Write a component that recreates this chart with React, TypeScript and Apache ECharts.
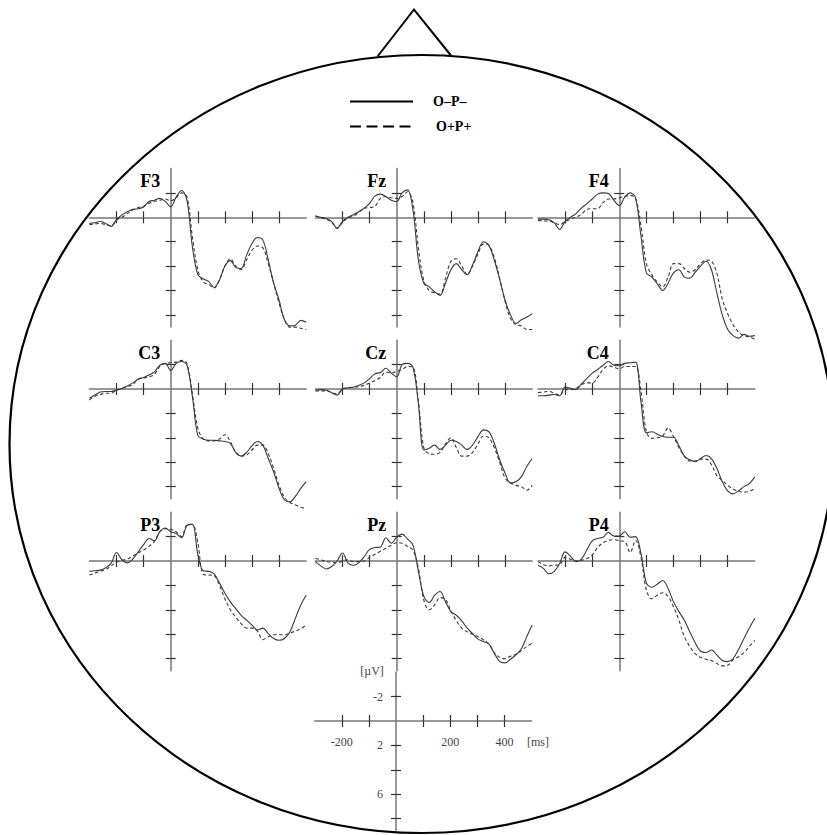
import React, { useEffect, useRef } from "react";
import * as echarts from "echarts";

// ---------------- data ----------------
const times = [
  -300, -280, -260, -240, -220, -200, -180, -160, -140, -120, -100, -80, -60, -40, -20,
  0, 20, 40, 60, 80, 100, 120, 140, 160, 180, 200, 220, 240, 260, 280, 300, 320, 340,
  360, 380, 400, 420, 440, 460, 480, 500,
];

const channels = ["F3", "Fz", "F4", "C3", "Cz", "C4", "P3", "Pz", "P4"];
const conditionNames = ["O\u2013P\u2013", "O+P+"];

const F3_solid = [0.5, 0.45, 0.35, 0.5, 0.75, 0.2, -0.2, -0.45, -0.65, -0.7, -0.85, -1.3, -1.4, -1.55, -1.3, -0.85, -1.65, -2.2, -1.4, 2.4, 4.7, 5.05, 5.25, 5.75, 5.15, 4.0, 3.55, 4.1, 4.2, 3.1, 2.15, 1.65, 1.85, 3.5, 5.4, 6.8, 8.4, 8.9, 8.85, 8.45, 8.6];
const F3_dashed = [0.6, 0.55, 0.5, 0.6, 0.7, 0.2, 0.0, -0.3, -0.6, -0.8, -0.9, -1.15, -1.3, -1.4, -1.5, -1.35, -1.6, -2.0, -1.7, 1.6, 4.3, 5.3, 5.5, 5.8, 5.1, 4.0, 3.4, 4.0, 4.3, 3.5, 2.7, 2.35, 2.5, 3.8, 5.4, 7.05, 8.4, 9.0, 9.0, 9.1, 9.2];
const Fz_solid = [-0.1, 0, 0.1, 0.35, 0.9, 0.35, 0, -0.2, -0.45, -0.75, -1.15, -1.75, -1.9, -1.7, -1.4, -1.3, -2.0, -2.25, -0.6, 3.5, 5.4, 5.7, 6.1, 6.4, 5.4, 4.3, 3.8, 4.3, 4.7, 3.9, 2.8, 2.0, 2.3, 3.5, 5.1, 6.8, 8.0, 8.7, 8.4, 8.2, 7.9];
const Fz_dashed = [-0.1, 0.05, 0.15, 0.4, 0.9, 0.4, 0.05, -0.1, -0.4, -0.75, -0.8, -0.9, -1.55, -1.7, -1.6, -1.55, -1.7, -2.1, -1.2, 2.5, 5.2, 6.0, 6.2, 6.3, 5.0, 3.6, 3.4, 4.0, 4.7, 4.0, 3.0, 2.2, 2.3, 3.3, 5.0, 6.9, 8.3, 8.8, 8.9, 9.2, 9.2];
const F4_solid = [0.15, 0.15, 0.2, 0.45, 1.0, 0.35, 0, -0.3, -0.75, -1.1, -1.5, -1.9, -2.0, -1.95, -1.4, -0.95, -1.65, -2.0, -1.6, 1.55, 4.55, 4.9, 5.45, 6.0, 5.4, 4.55, 4.3, 4.9, 5.0, 4.5, 4.0, 3.6, 4.3, 6.2, 8.0, 9.2, 9.7, 9.9, 9.6, 9.75, 9.7];
const F4_dashed = [0.25, 0.3, 0.3, 0.45, 0.6, 0.35, 0.15, 0.0, -0.25, -0.65, -0.7, -0.7, -1.2, -1.5, -1.5, -1.6, -1.7, -1.8, -1.55, 0.7, 3.8, 4.7, 5.3, 5.7, 4.9, 3.8, 3.8, 4.2, 4.5, 4.3, 3.8, 3.5, 3.6, 4.6, 6.7, 7.9, 8.8, 9.4, 9.7, 9.8, 10.0];
const C3_solid = [0.75, 0.5, 0.25, 0.2, 0.2, 0.1, -0.05, -0.25, -0.5, -0.8, -0.95, -1.15, -1.4, -1.95, -2.1, -1.5, -2.1, -2.25, -1.95, 0.6, 3.8, 4.1, 4.2, 4.2, 4.25, 4.3, 4.45, 5.2, 5.5, 5.2, 4.65, 4.3, 4.6, 5.7, 6.8, 8.15, 9.1, 9.25, 8.8, 8.15, 7.6];
const C3_dashed = [0.9, 0.6, 0.45, 0.35, 0.35, 0.1, -0.05, -0.2, -0.35, -0.8, -0.9, -1.0, -1.2, -1.85, -2.1, -2.15, -2.2, -2.35, -2.1, 0.4, 3.2, 4.1, 4.25, 4.25, 4.1, 3.75, 4.3, 5.2, 5.5, 5.4, 5.0, 4.6, 4.6, 5.3, 6.5, 7.9, 8.9, 9.3, 9.5, 9.7, 9.8];
const Cz_solid = [0.1, 0.05, 0.1, 0.3, 0.5, 0, -0.1, -0.15, -0.3, -0.5, -0.85, -1.25, -1.35, -1.7, -1.3, -1.0, -2.0, -2.1, -1.8, 1.2, 5.0, 4.85, 4.6, 4.95, 4.6, 4.2, 4.3, 4.6, 4.95, 4.6, 3.9, 3.35, 3.5, 4.45, 5.8, 6.9, 7.7, 7.6, 7.2, 6.35, 5.7];
const Cz_dashed = [0.15, 0.15, 0.15, 0.3, 0.4, 0.0, -0.1, -0.15, -0.2, -0.3, -0.5, -0.7, -0.95, -1.4, -1.3, -1.45, -1.6, -1.85, -1.8, 1.0, 4.8, 5.3, 5.35, 5.2, 4.5, 4.0, 4.8, 5.5, 5.5, 5.2, 4.5, 3.85, 4.0, 4.8, 6.0, 7.3, 7.7, 7.9, 8.0, 8.3, 7.9];
const C4_solid = [0.55, 0.55, 0.5, 0.45, 0.55, -0.15, -0.05, 0.05, -0.4, -0.85, -1.3, -1.6, -1.95, -2.25, -1.95, -1.9, -2.1, -2.15, -2.2, 1.05, 3.6, 3.5, 3.7, 3.9, 3.95, 3.95, 4.65, 5.5, 5.8, 5.95, 5.7, 5.45, 5.7, 6.5, 7.6, 8.35, 8.6, 8.35, 8.0, 7.75, 7.2];
const C4_dashed = [0.3, 0.25, 0.2, 0.35, 0.5, 0.05, 0.05, -0.05, -0.35, -0.5, -0.5, -0.95, -1.6, -1.9, -1.8, -1.65, -1.85, -1.85, -1.85, 0.2, 3.5, 4.05, 4.0, 3.85, 3.2, 3.9, 4.8, 5.5, 5.9, 5.9, 5.75, 5.75, 6.2, 7.1, 7.5, 7.9, 8.2, 8.4, 8.45, 8.4, 8.15];
const P3_solid = [0.85, 0.8, 0.75, 0.55, 0.2, -0.7, -0.1, 0.15, -0.15, -0.75, -1.35, -1.85, -1.65, -2.4, -2.7, -2.4, -2.25, -1.9, -2.9, -3.0, -0.55, 0.8, 0.85, 1.05, 1.8, 2.65, 3.35, 3.9, 4.45, 4.85, 5.25, 5.65, 5.5, 5.95, 6.35, 6.5, 6.35, 5.8, 4.7, 3.6, 2.8];
const P3_dashed = [1.15, 1.0, 0.85, 0.7, 0.4, 0.1, -0.05, -0.15, -0.4, -0.65, -0.9, -1.2, -1.6, -2.4, -2.65, -2.6, -2.4, -2.0, -2.95, -3.0, -1.5, 1.1, 1.15, 1.2, 2.0, 3.1, 4.0, 4.6, 5.15, 5.5, 5.5, 5.75, 6.45, 6.2, 6.05, 6.05, 6.05, 5.9, 5.75, 5.55, 5.25];
const Pz_solid = [0.05, 0.4, 0.65, 0.45, 0.0, -0.65, 0.15, 0.35, 0.15, -0.35, -0.95, -1.1, -1.15, -1.9, -1.45, -1.95, -2.2, -1.8, -1.3, 0.85, 2.9, 3.4, 2.8, 2.5, 3.35, 4.15, 4.45, 4.9, 5.5, 5.95, 6.4, 6.6, 6.8, 7.55, 8.25, 8.35, 8.05, 7.7, 7.2, 6.2, 5.25];
const Pz_dashed = [-0.2, -0.1, 0.05, 0.1, 0.15, 0.0, -0.1, 0.05, 0.05, 0.0, -0.3, -0.55, -0.8, -1.05, -1.3, -1.5, -1.45, -1.2, -0.9, 0.6, 3.2, 4.0, 3.6, 3.0, 3.15, 4.1, 4.9, 5.5, 5.8, 6.0, 6.2, 6.45, 6.8, 7.5, 7.9, 8.0, 7.8, 7.65, 7.35, 7.0, 6.75];
const P4_solid = [0.35, 0.6, 1.05, 0.85, 0.2, -0.75, -0.4, 0.05, -0.15, -0.9, -1.65, -1.85, -1.95, -2.35, -2.05, -2.05, -2.4, -1.95, -2.0, -0.6, 1.8, 2.15, 1.9, 1.6, 2.25, 3.35, 4.15, 4.85, 5.8, 6.7, 7.4, 7.5, 7.3, 7.7, 8.15, 8.25, 8.0, 7.25, 6.35, 5.5, 4.7];
const P4_dashed = [0.05, 0.3, 0.4, 0.35, 0.3, -0.3, -0.15, 0.0, -0.05, -0.2, -0.5, -1.1, -1.5, -1.7, -1.75, -1.65, -1.6, -0.7, -1.7, -0.3, 2.4, 3.1, 2.8, 2.6, 2.9, 3.75, 4.85, 6.2, 7.0, 7.6, 7.9, 8.05, 8.15, 8.4, 8.6, 8.55, 8.1, 7.85, 7.5, 7.0, 6.5];

const solidData = [F3_solid, Fz_solid, F4_solid, C3_solid, Cz_solid, C4_solid, P3_solid, Pz_solid, P4_solid];
const dashedData = [F3_dashed, Fz_dashed, F4_dashed, C3_dashed, Cz_dashed, C4_dashed, P3_dashed, Pz_dashed, P4_dashed];

const xTicks = [-200, -100, 100, 200, 300, 400];
const yTicks = [-2, 2, 4, 6, 8];
const scaleXLabels = [-200, 200, 400];
const scaleYLabels = [-2, 2, 6];

// ---------------- layout ----------------
const X_MIN = -300;
const X_MAX = 500;
const Y_MIN = -4;
const Y_MAX = 9;
const PX_PER_MS = 0.271;
const PX_PER_UV = 12.2;
const colOrigins = [170.7, 396.7, 619.3];
const rowOrigins = [217.3, 389, 561];
const scaleOrigin = [396, 721];

const SERIF = '"Liberation Serif", "Times New Roman", serif';
const AXIS_COLOR = "#777";
const TICK_COLOR = "#333";
const CURVE_COLOR = "#3a3a3a";
const LABEL_COLOR = "#444";

function buildOption() {
  const origins: number[][] = [];
  for (let k = 0; k < channels.length; k++) {
    origins.push([colOrigins[k % 3], rowOrigins[Math.floor(k / 3)]]);
  }
  origins.push(scaleOrigin);
  const scaleGrid = origins.length - 1;

  const grids: any[] = [];
  const xAxes: any[] = [];
  const yAxes: any[] = [];

  origins.forEach(([ox, oy], g) => {
    grids.push({
      left: ox - (0 - X_MIN) * PX_PER_MS,
      top: oy - (0 - Y_MIN) * PX_PER_UV,
      width: (X_MAX - X_MIN) * PX_PER_MS,
      height: (Y_MAX - Y_MIN) * PX_PER_UV,
      outerBoundsMode: "none",
      containLabel: false,
    });
    xAxes.push({
      type: "value",
      gridIndex: g,
      position: "bottom",
      min: X_MIN,
      max: X_MAX,
      axisLine: { show: true, onZero: true, lineStyle: { color: AXIS_COLOR, width: 1.5 } },
      axisTick: { show: true, length: 6, customValues: xTicks, lineStyle: { color: TICK_COLOR, width: 1.2 } },
      axisLabel: { show: false },
      splitLine: { show: false },
    });
    xAxes.push({
      type: "value",
      gridIndex: g,
      position: "top",
      min: X_MIN,
      max: X_MAX,
      axisLine: { show: false, onZero: true },
      axisTick: { show: true, length: 6, customValues: xTicks, lineStyle: { color: TICK_COLOR, width: 1.2 } },
      axisLabel: { show: false },
      splitLine: { show: false },
    });
    yAxes.push({
      type: "value",
      gridIndex: g,
      position: "left",
      inverse: true,
      min: Y_MIN,
      max: Y_MAX,
      axisLine: { show: true, onZero: true, lineStyle: { color: AXIS_COLOR, width: 1.5 } },
      axisTick: { show: true, length: 5, customValues: yTicks, lineStyle: { color: TICK_COLOR, width: 1.2 } },
      axisLabel: { show: false },
      splitLine: { show: false },
    });
    yAxes.push({
      type: "value",
      gridIndex: g,
      position: "right",
      inverse: true,
      min: Y_MIN,
      max: Y_MAX,
      axisLine: { show: false, onZero: true },
      axisTick: { show: true, length: 5, customValues: yTicks, lineStyle: { color: TICK_COLOR, width: 1.2 } },
      axisLabel: { show: false },
      splitLine: { show: false },
    });
  });

  // label-only axes for the scale cross, shifted onto its zero lines
  const labelStyle = { fontFamily: SERIF, fontSize: 12, color: LABEL_COLOR };
  xAxes.push({
    type: "value",
    gridIndex: scaleGrid,
    position: "bottom",
    offset: -(Y_MAX - 0) * PX_PER_UV,
    min: X_MIN,
    max: X_MAX,
    axisLine: { show: false, onZero: false },
    axisTick: { show: false },
    axisLabel: { show: true, customValues: scaleXLabels, margin: 15, ...labelStyle },
    splitLine: { show: false },
  });
  yAxes.push({
    type: "value",
    gridIndex: scaleGrid,
    position: "left",
    inverse: true,
    offset: -(0 - X_MIN) * PX_PER_MS,
    min: Y_MIN,
    max: Y_MAX,
    axisLine: { show: false, onZero: false },
    axisTick: { show: false },
    axisLabel: { show: true, customValues: scaleYLabels, margin: 13, ...labelStyle },
    splitLine: { show: false },
  });

  const series: any[] = [];
  channels.forEach((ch, k) => {
    series.push({
      type: "line",
      name: conditionNames[0],
      xAxisIndex: 2 * k,
      yAxisIndex: 2 * k,
      data: times.map((t, i) => [t, solidData[k][i]]),
      symbol: "none",
      showSymbol: false,
      smooth: 0.35,
      clip: false,
      silent: true,
      lineStyle: { color: CURVE_COLOR, width: 1.1, type: "solid" },
      z: 3,
    });
    series.push({
      type: "line",
      name: conditionNames[1],
      xAxisIndex: 2 * k,
      yAxisIndex: 2 * k,
      data: times.map((t, i) => [t, dashedData[k][i]]),
      symbol: "none",
      showSymbol: false,
      smooth: 0.35,
      clip: false,
      silent: true,
      lineStyle: { color: CURVE_COLOR, width: 1.1, type: [3.5, 2.5] },
      z: 3,
    });
  });

  const graphics: any[] = [];
  // head outline
  graphics.push({
    type: "ellipse",
    silent: true,
    shape: { cx: 421.5, cy: 444, rx: 412, ry: 389 },
    style: { fill: "none", stroke: "#000", lineWidth: 2.2 },
  });
  // nose
  graphics.push({
    type: "polyline",
    silent: true,
    shape: { points: [[377.5, 56.5], [414, 9.5], [451, 55.5]] },
    style: { fill: "none", stroke: "#000", lineWidth: 2 },
  });
  // legend
  graphics.push({
    type: "line",
    silent: true,
    shape: { x1: 350, y1: 101.5, x2: 413, y2: 101.5 },
    style: { stroke: "#000", lineWidth: 2.2 },
  });
  graphics.push({
    type: "line",
    silent: true,
    shape: { x1: 350, y1: 126.5, x2: 413, y2: 126.5 },
    style: { stroke: "#000", lineWidth: 2.2, lineDash: [11, 5.5] },
  });
  const legendText = (text: string, x: number, y: number) => ({
    type: "text",
    silent: true,
    x,
    y,
    style: {
      text,
      font: `bold 14px ${SERIF}`,
      fill: "#000",
      align: "left",
      verticalAlign: "middle",
      textAlign: "left",
      textVerticalAlign: "middle",
    },
  });
  graphics.push(legendText(conditionNames[0], 433, 101.5));
  graphics.push(legendText(conditionNames[1], 436, 126.5));

  // channel labels
  channels.forEach((ch, k) => {
    const [ox, oy] = origins[k];
    graphics.push({
      type: "text",
      silent: true,
      x: ox - 10.5,
      y: oy - 36,
      style: {
        text: ch,
        font: `bold 18px ${SERIF}`,
        fill: "#000",
        align: "right",
        verticalAlign: "middle",
        textAlign: "right",
        textVerticalAlign: "middle",
      },
    });
  });

  // units of the scale cross
  const unitText = (text: string, x: number, y: number) => ({
    type: "text",
    silent: true,
    x,
    y,
    style: {
      text,
      font: `12px ${SERIF}`,
      fill: LABEL_COLOR,
      align: "center",
      verticalAlign: "middle",
      textAlign: "center",
      textVerticalAlign: "middle",
    },
  });
  graphics.push(unitText("[\u00b5V]", 372, 671));
  graphics.push(unitText("[ms]", 538, 742));

  return {
    animation: false,
    backgroundColor: "#ffffff",
    grid: grids,
    xAxis: xAxes,
    yAxis: yAxes,
    series,
    graphic: { elements: graphics },
  };
}

export default function App() {
  const ref = useRef<HTMLDivElement>(null);
  useEffect(() => {
    if (!ref.current) return;
    const chart = echarts.init(ref.current, null, { renderer: "svg" });
    chart.setOption(buildOption() as any);
    return () => {
      chart.dispose();
    };
  }, []);
  return (
    <div
      ref={ref}
      style={{ position: "absolute", left: 0, top: 0, width: 827, height: 835, background: "#fff" }}
    />
  );
}
